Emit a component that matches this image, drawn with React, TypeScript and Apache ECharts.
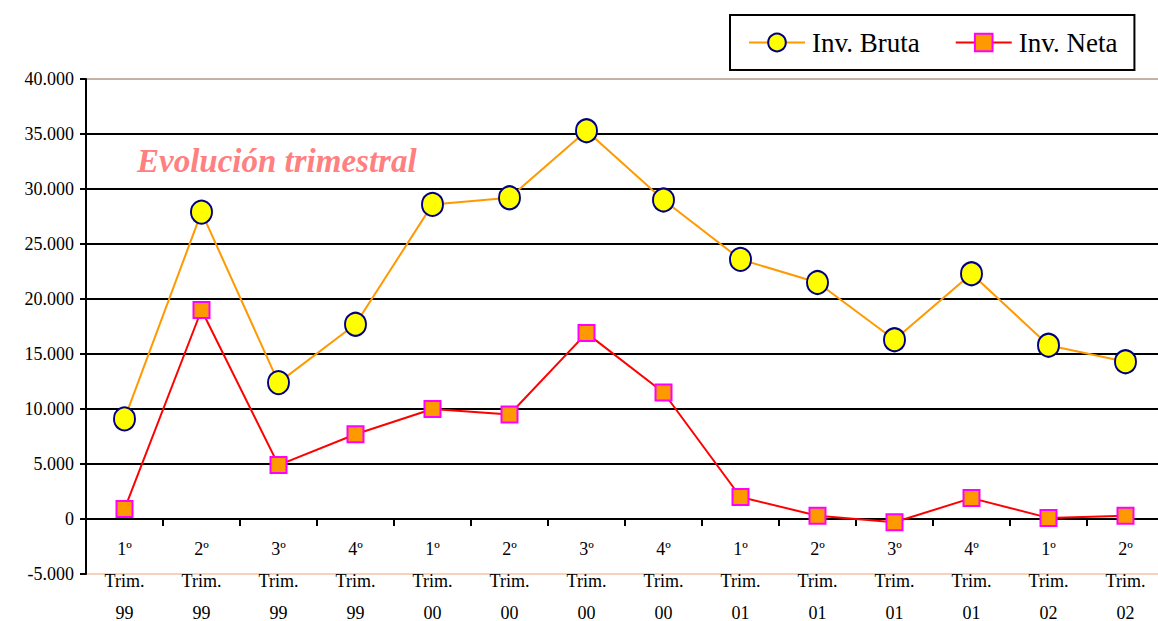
import React, { useEffect, useRef } from "react";
import * as echarts from "echarts";

const categories = [
  "1º\nTrim.\n99", "2º\nTrim.\n99", "3º\nTrim.\n99", "4º\nTrim.\n99",
  "1º\nTrim.\n00", "2º\nTrim.\n00", "3º\nTrim.\n00", "4º\nTrim.\n00",
  "1º\nTrim.\n01", "2º\nTrim.\n01", "3º\nTrim.\n01", "4º\nTrim.\n01",
  "1º\nTrim.\n02", "2º\nTrim.\n02",
];
const invBruta = [9100, 27900, 12400, 17700, 28600, 29200, 35300, 29000, 23600, 21500, 16300, 22300, 15800, 14300];
const invNeta = [900, 19000, 4900, 7700, 10000, 9500, 16900, 11500, 2000, 300, -300, 1900, 100, 300];
const titleText = "Evolución trimestral";

const FONT = "Times New Roman";

function fmt(v: number): string {
  const s = Math.abs(v).toString().replace(/\B(?=(\d{3})+(?!\d))/g, ".");
  return (v < 0 ? "-" : "") + s;
}

export default function App() {
  const ref = useRef<HTMLDivElement>(null);
  useEffect(() => {
    if (!ref.current) return;
    const chart = echarts.init(ref.current, undefined, { renderer: "svg" });
    const gridColors = ["#f6d2bd", "#000", "#000", "#000", "#000", "#000", "#000", "#000", "#000", "#c4b2a8"];
    chart.setOption({
      animation: false,
      backgroundColor: "#fff",
      textStyle: { fontFamily: FONT },
      grid: { left: 86, top: 79, bottom: 47, right: -6, containLabel: false, outerBoundsMode: "none" },
      legend: {
        left: 730,
        top: 15,
        padding: [14, 17, 14, 18],
        borderColor: "#000",
        borderWidth: 2,
        itemGap: 35,
        itemWidth: 56,
        itemHeight: 22,
        textStyle: { fontFamily: FONT, fontSize: 27, color: "#000", padding: [0, 0, 0, 2] },
        data: ["Inv. Bruta", "Inv. Neta"],
      },
      graphic: [
        {
          type: "text",
          left: 137,
          top: 144,
          style: {
            text: titleText,
            fontFamily: FONT,
            fontSize: 33,
            fontStyle: "italic",
            fontWeight: "bold",
            fill: "#ff8080",
          },
        },
      ],
      xAxis: {
        type: "category",
        data: categories,
        boundaryGap: true,
        axisLine: { onZero: true, lineStyle: { color: "#000", width: 2 } },
        axisTick: { show: true, length: 7, inside: false, lineStyle: { color: "#000", width: 2 } },
        axisLabel: {
          interval: 0,
          color: "#000",
          fontFamily: FONT,
          fontSize: 18,
          lineHeight: 32,
          margin: -41,
        },
        splitLine: { show: false },
      },
      yAxis: {
        type: "value",
        min: -5000,
        max: 40000,
        interval: 5000,
        axisLine: { show: true, lineStyle: { color: "#000", width: 2 } },
        axisTick: { show: true, length: 6, lineStyle: { color: "#000", width: 2 } },
        axisLabel: {
          color: "#000",
          fontFamily: FONT,
          fontSize: 18,
          margin: 12,
          formatter: (v: number) => fmt(v),
        },
        splitLine: { show: true, lineStyle: { color: gridColors, width: 2 } },
      },
      series: [
        {
          name: "Inv. Bruta",
          type: "line",
          data: invBruta,
          symbol: "circle",
          symbolSize: [21, 23],
          lineStyle: { color: "#ff9900", width: 2 },
          itemStyle: { color: "#ffff00", borderColor: "#000080", borderWidth: 2 },
          z: 3,
        },
        {
          name: "Inv. Neta",
          type: "line",
          data: invNeta,
          symbol: "rect",
          symbolSize: 16,
          lineStyle: { color: "#ff0000", width: 2 },
          itemStyle: { color: "#ff9900", borderColor: "#ff00ff", borderWidth: 2 },
          z: 4,
        },
      ],
    });
    return () => chart.dispose();
  }, []);
  return (
    <div
      ref={ref}
      style={{ position: "absolute", left: 0, top: 0, width: 1158, height: 621 }}
    />
  );
}
